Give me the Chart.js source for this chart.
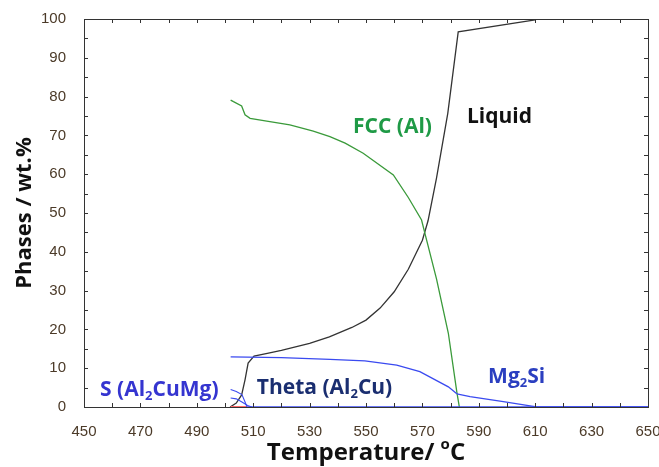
<!DOCTYPE html>
<html>
<head>
<meta charset="utf-8">
<script src="https://cdn.jsdelivr.net/npm/chart.js@4.4.1/dist/chart.umd.min.js"></script>
<style>
  html, body { margin: 0; padding: 0; background: #fff; }
  #wrap { width: 659px; height: 467px; }
</style>
</head>
<body>
<div id="wrap"><canvas id="chart"></canvas></div>
<script>
// ── Phase fractions vs temperature (wt.%) ────────────────────
const liquidT = [501.8, 504, 505.9, 507.1, 508.2, 510.3, 515, 520, 530, 537, 545, 550, 555, 560, 565, 570, 572, 575, 579, 582.7, 610];
const liquidY = [0, 1, 3.1, 7, 11.3, 13.1, 13.8, 14.6, 16.4, 18.1, 20.5, 22.4, 25.5, 29.7, 35.5, 43, 48, 59, 75.7, 96.7, 99.8];

const fccT = [502, 503, 505.9, 507.1, 508.9, 514.8, 523, 531.3, 537.2, 542.6, 549, 559.7, 565, 569.7, 571.5, 575, 579.2, 582.2, 583.1];
const fccY = [79.1, 78.7, 77.6, 75.3, 74.4, 73.7, 72.7, 71.1, 69.7, 68, 65.4, 59.8, 54, 48.2, 43, 33, 19, 3.9, 0];

const thetaT = [502, 520, 537.2, 549.6, 560.9, 569.1, 579.2, 582.2];
const thetaY = [12.9, 12.7, 12.3, 11.9, 10.8, 9.1, 5.2, 3.4];

const mg2siT = [582.2, 586.9, 598.7, 608.2, 610.5, 650];
const mg2siY = [3.4, 2.7, 1.4, 0.3, 0, 0];

const baseT = [508, 650];
const baseY = [0, 0];

const sPhaseT  = [502, 504, 506, 507, 507.8];
const sPhaseY  = [4.5, 4.0, 3.2, 1.5, 0];
const sPhase2T = [502, 504, 506, 508, 509.5];
const sPhase2Y = [2.3, 2.1, 1.3, 0.4, 0];

const redT = [502, 508];
const redY = [0, 0];

const xTicks = [450, 470, 490, 510, 530, 550, 570, 590, 610, 630, 650];

// labels: [parts, T, Y (vertical middle), colour]
const phaseLabels = [
  { parts: [['FCC (Al)']], t: 545.4, y: 72.2, color: '#1f9a46' },
  { parts: [['Liquid']], t: 585.8, y: 74.7, color: '#111111' },
  { parts: [['S (Al'], ['2', 'sub'], ['CuMg)']], t: 455.7, y: 4.4, color: '#3535d0' },
  { parts: [['Theta (Al'], ['2', 'sub'], ['Cu)']], t: 511.3, y: 4.9, color: '#1a2e70' },
  { parts: [['Mg'], ['2', 'sub'], ['Si']], t: 593.3, y: 7.7, color: '#2b3fc0' },
];

const toPts = (xs, ys) => xs.map((x, i) => ({ x, y: ys[i] }));

function line(data, color, width) {
  return { data, borderColor: color, borderWidth: width, pointRadius: 0, fill: false, tension: 0 };
}

const LABEL_FONT = '"Open Sans", Lato, sans-serif';

// draws text with sub/superscript segments, left aligned, middle baseline
function drawRich(ctx, parts, x, y, size, color) {
  ctx.save();
  ctx.fillStyle = color;
  ctx.textBaseline = 'middle';
  ctx.textAlign = 'left';
  let cx = x;
  parts.forEach(([txt, kind]) => {
    const s = kind ? Math.round(size * 0.62) : size;
    ctx.font = `bold ${s}px ${LABEL_FONT}`;
    const dy = kind === 'sub' ? size * 0.3 : kind === 'sup' ? -size * 0.35 : 0;
    ctx.fillText(txt, cx, y + dy);
    cx += ctx.measureText(txt).width;
  });
  ctx.restore();
  return cx - x;
}

function richWidth(ctx, parts, size) {
  let w = 0;
  ctx.save();
  parts.forEach(([txt, kind]) => {
    const s = kind ? Math.round(size * 0.62) : size;
    ctx.font = `bold ${s}px ${LABEL_FONT}`;
    w += ctx.measureText(txt).width;
  });
  ctx.restore();
  return w;
}

// frame, inward ticks, phase names and axis titles
const framePlugin = {
  id: 'frame',
  afterDraw(chart) {
    const { ctx, chartArea: a, scales: { x, y } } = chart;
    ctx.save();
    ctx.strokeStyle = '#333';
    ctx.lineWidth = 1;
    ctx.strokeRect(a.left + 0.5, a.top + 0.5, a.right - a.left, a.bottom - a.top);
    ctx.beginPath();
    for (let t = 450; t <= 650; t += 10) {
      const px = Math.round(x.getPixelForValue(t)) + 0.5;
      ctx.moveTo(px, a.bottom); ctx.lineTo(px, a.bottom - 4);
      ctx.moveTo(px, a.top);    ctx.lineTo(px, a.top + 4);
    }
    for (let v = 0; v <= 100; v += 5) {
      const py = Math.round(y.getPixelForValue(v)) + 0.5;
      ctx.moveTo(a.left, py);  ctx.lineTo(a.left + 4, py);
      ctx.moveTo(a.right, py); ctx.lineTo(a.right - 4, py);
    }
    ctx.stroke();
    ctx.restore();

    phaseLabels.forEach(l => {
      drawRich(ctx, l.parts, x.getPixelForValue(l.t), y.getPixelForValue(l.y), 21, l.color);
    });

    // x title
    const xt = [['Temperature/ '], ['o', 'sup'], ['C']];
    const xw = richWidth(ctx, xt, 24);
    drawRich(ctx, xt, (a.left + a.right) / 2 - xw / 2, 453, 24, '#111');

    // y title
    ctx.save();
    ctx.translate(25, (a.top + a.bottom) / 2);
    ctx.rotate(-Math.PI / 2);
    const yt = [['Phases / wt.%']];
    const yw = richWidth(ctx, yt, 22);
    drawRich(ctx, yt, -yw / 2, 0, 22, '#111');
    ctx.restore();
  }
};

new Chart(document.getElementById('chart'), {
  type: 'line',
  data: {
    datasets: [
      line(toPts(baseT, baseY), '#3a4af0', 1.6),
      line(toPts(thetaT, thetaY), '#3a4af0', 1.3),
      line(toPts(mg2siT, mg2siY), '#3a4af0', 1.3),
      line(toPts(sPhaseT, sPhaseY), '#3a4af0', 1.1),
      line(toPts(sPhase2T, sPhase2Y), '#3a4af0', 1.1),
      line(toPts(redT, redY), '#ff6a6a', 2),
      line(toPts(fccT, fccY), '#3a9a3a', 1.3),
      line(toPts(liquidT, liquidY), '#333333', 1.3),
    ]
  },
  options: {
    responsive: true, maintainAspectRatio: false, animation: false,
    layout: { padding: { top: 19, right: 11, left: 0, bottom: 0 } },
    plugins: { legend: { display: false }, tooltip: { enabled: false } },
    scales: {
      x: {
        type: 'linear', min: 450, max: 650,
        afterBuildTicks: s => { s.ticks = xTicks.map(v => ({ value: v })); },
        afterFit: s => { s.height = 60; s.paddingLeft = 0; s.paddingRight = 0; },
        grid: { display: false }, border: { display: false },
        ticks: { padding: 8, color: '#4b3a28', maxRotation: 0, autoSkip: false,
                 font: { family: '"Liberation Sans Narrow", "Liberation Sans", Arial', size: 15 } }
      },
      y: {
        min: 0, max: 100,
        afterFit: s => { s.width = 84; s.paddingTop = 0; s.paddingBottom = 0; },
        grid: { display: false }, border: { display: false },
        ticks: { stepSize: 10, padding: 10, color: '#4b3a28',
                 font: { family: '"Liberation Sans Narrow", "Liberation Sans", Arial', size: 15 } }
      }
    }
  },
  plugins: [framePlugin]
});
</script>
</body>
</html>
